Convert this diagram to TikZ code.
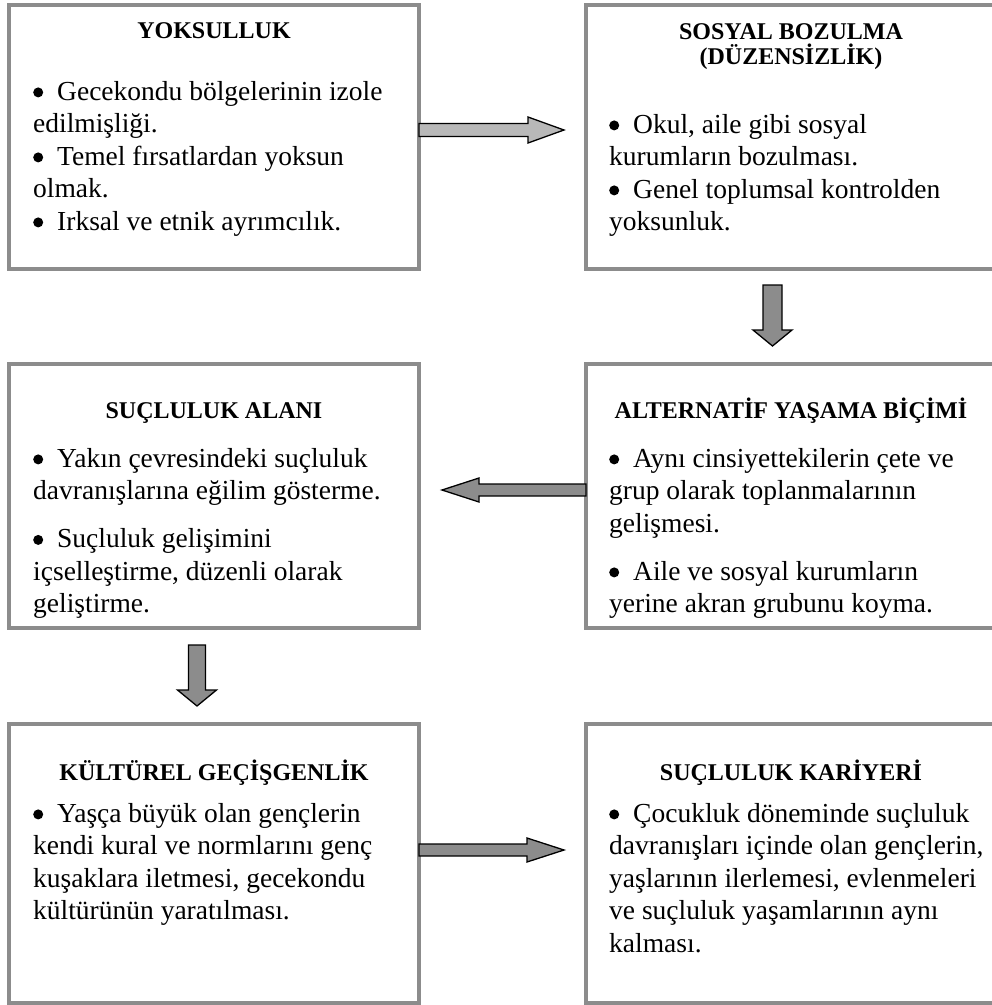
\documentclass[tikz,border=0pt]{standalone}
\usepackage{fontspec}
\setmainfont{Liberation Serif}
\usetikzlibrary{calc}

\newcommand\bul{\makebox[24pt][l]{\raisebox{2.6pt}{\tikz[x=1pt,y=1pt]\fill (0,0) circle (5pt);}}}
\newcommand\cellhead[1]{\parbox[t]{400pt}{\centering\bfseries\fontsize{24}{25.5}\selectfont #1}}
\newcommand\celltext[1]{\parbox[t]{385pt}{\raggedright\fontsize{27.5}{32.5}\selectfont #1}}

\begin{document}
\begin{tikzpicture}[x=1pt,y=-1pt,
  cell/.style={draw=black!45,line width=3.8pt,outer sep=0pt,inner sep=0pt,
  anchor=north west,minimum width=410pt},
  head/.style={anchor=base,inner sep=0pt},
  txt/.style={anchor=base west,inner sep=0pt},
  barrow/.style={draw=black,line width=1.3pt,fill=black!45,line join=miter}]
  \useasboundingbox (0,0) rectangle (992,1005);

  \node[cell,minimum height=264pt] (yoks) at (9,5) {};
  \node[cell,minimum height=264pt] (sosyal) at (586,5) {};
  \node[cell,minimum height=264pt] (suc) at (9,364) {};
  \node[cell,minimum height=264pt] (alt) at (586,364) {};
  \node[cell,minimum height=279pt] (kult) at (9,724) {};
  \node[cell,minimum height=279pt] (kar) at (586,724) {};

  % titles
  \node[head] (yoks-h) at ([shift={(0,33)}]yoks.north) {\cellhead{YOKSULLUK}};
  \node[head] (sosyal-h) at ([shift={(0,34)}]sosyal.north) {\cellhead{SOSYAL BOZULMA\\(DÜZENSİZLİK)}};
  \node[head] (suc-h) at ([shift={(0,54)}]suc.north) {\cellhead{SUÇLULUK ALANI}};
  \node[head] (alt-h) at ([shift={(0,54)}]alt.north) {\cellhead{ALTERNATİF YAŞAMA BİÇİMİ}};
  \node[head] (kult-h) at ([shift={(0,56)}]kult.north) {\cellhead{KÜLTÜREL GEÇİŞGENLİK}};
  \node[head] (kar-h) at ([shift={(0,56)}]kar.north) {\cellhead{SUÇLULUK KARİYERİ}};

  % bullet texts
  \node[txt] (yoks-t) at ([shift={(24,95)}]yoks.north west) {\celltext{%
    \bul Gecekondu bölgelerinin izole\\ edilmişliği.\\
    \bul Temel fırsatlardan yoksun\\ olmak.\\
    \bul Irksal ve etnik ayrımcılık.}};
  \node[txt] (sosyal-t) at ([shift={(23,128)}]sosyal.north west) {\celltext{%
    \bul Okul, aile gibi sosyal\\ kurumların bozulması.\\
    \bul Genel toplumsal kontrolden\\ yoksunluk.}};
  \node[txt] (suc-t) at ([shift={(24,103)}]suc.north west) {\celltext{%
    \bul Yakın çevresindeki suçluluk\\ davranışlarına eğilim gösterme.\\[15.5pt]
    \bul Suçluluk gelişimini\\ içselleştirme, düzenli olarak\\ geliştirme.}};
  \node[txt] (alt-t) at ([shift={(23,103)}]alt.north west) {\celltext{%
    \bul Aynı cinsiyettekilerin çete ve\\ grup olarak toplanmalarının\\ gelişmesi.\\[15.5pt]
    \bul Aile ve sosyal kurumların\\ yerine akran grubunu koyma.}};
  \node[txt] (kult-t) at ([shift={(24,98)}]kult.north west) {\celltext{%
    \bul Yaşça büyük olan gençlerin\\ kendi kural ve normlarını genç\\
    kuşaklara iletmesi, gecekondu\\ kültürünün yaratılması.}};
  \node[txt] (kar-t) at ([shift={(23,98)}]kar.north west) {\celltext{%
    \bul Çocukluk döneminde suçluluk\\ davranışları içinde olan gençlerin,\\
    yaşlarının ilerlemesi, evlenmeleri\\ ve suçluluk yaşamlarının aynı\\ kalması.}};

  % block arrows
  \draw[barrow,fill=black!28] ([shift={(0,-13.5)}]yoks.east) -- ++(109,0) -- ++(0,-6.5)
    -- ++(36,13) -- ++(-36,13) -- ++(0,-6.5) -- ++(-109,0) -- cycle;
  \draw[barrow] ([shift={(-28,16)}]sosyal.south) -- ++(0,45) -- ++(-10,0)
    -- ++(19.5,16) -- ++(19.5,-16) -- ++(-10,0) -- ++(0,-45) -- cycle;
  \draw[barrow] ([shift={(0,-12)}]alt.west) -- ++(-107,0) -- ++(0,-6)
    -- ++(-37,12) -- ++(37,12) -- ++(0,-6) -- ++(107,0) -- cycle;
  \draw[barrow] ([shift={(-25.5,17)}]suc.south) -- ++(0,45) -- ++(-11,0)
    -- ++(19.5,16) -- ++(19.5,-16) -- ++(-11,0) -- ++(0,-45) -- cycle;
  \draw[barrow] ([shift={(0,-19.5)}]kult.east) -- ++(108,0) -- ++(0,-6)
    -- ++(37,12) -- ++(-37,12) -- ++(0,-6) -- ++(-108,0) -- cycle;
\end{tikzpicture}
\end{document}
